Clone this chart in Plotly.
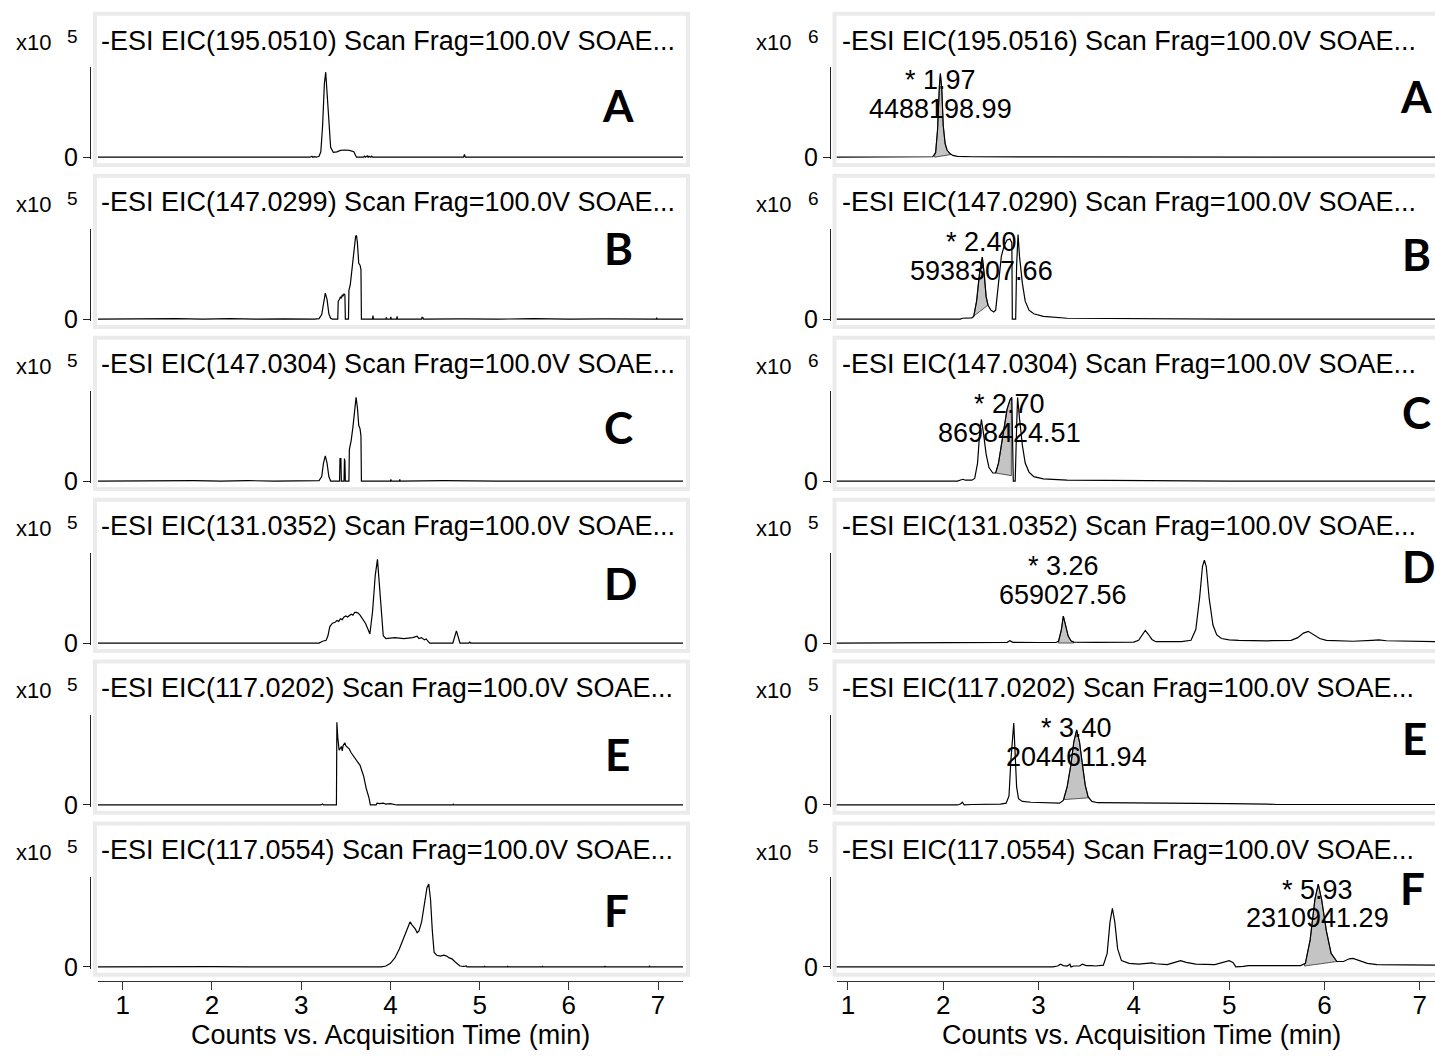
import numpy as np
import plotly.graph_objects as go

# ---------------- data ----------------
LETTERS = ["A", "B", "C", "D", "E", "F"]
LEFT_MZ = ["195.0510", "147.0299", "147.0304", "131.0352", "117.0202", "117.0554"]
RIGHT_MZ = ["195.0516", "147.0290", "147.0304", "131.0352", "117.0202", "117.0554"]
LEFT_EXP = ["5", "5", "5", "5", "5", "5"]
RIGHT_EXP = ["6", "6", "6", "5", "5", "5"]
X_TICKS = [1, 2, 3, 4, 5, 6, 7]
PEAK_RT = ["1.97", "2.40", "2.70", "3.26", "3.40", "5.93"]
PEAK_AREA = ["4488198.99", "5938307.66", "8698424.51", "659027.56", "2044611.94", "2310941.29"]

# intensities in units of the y-axis height (time in min)
LEFT_A = [(0.72, 0), (3.10, 0), (3.12, 0.01), (3.13, 0), (3.15, 0.006), (3.17, 0), (3.20, 0.01),
          (3.22, 0.06), (3.24, 0.35), (3.26, 0.82), (3.275, 0.945), (3.29, 0.72), (3.31, 0.30),
          (3.33, 0.11), (3.36, 0.055), (3.40, 0.06), (3.44, 0.075), (3.49, 0.08), (3.54, 0.075),
          (3.59, 0.06), (3.61, 0.02), (3.62, 0), (3.70, 0), (3.71, 0.012), (3.72, 0), (3.74, 0.015),
          (3.75, 0), (3.76, 0.01), (3.78, 0), (3.79, 0.012), (3.80, 0), (4.82, 0), (4.83, 0.03),
          (4.84, 0), (7.28, 0)]
LEFT_B = [(0.72, 0), (1.0, 0.004), (1.3, 0), (1.6, 0.005), (1.9, 0), (2.2, 0.005), (2.5, 0),
          (2.8, 0.004), (3.15, 0), (3.20, 0.005), (3.23, 0.05), (3.25, 0.20), (3.27, 0.29),
          (3.29, 0.22), (3.31, 0.06), (3.33, 0.01), (3.35, 0), (3.41, 0), (3.415, 0.20), (3.43, 0.22),
          (3.44, 0.25), (3.45, 0.23), (3.46, 0.27), (3.47, 0.26), (3.48, 0.28), (3.49, 0.27),
          (3.495, 0), (3.53, 0), (3.535, 0.32), (3.55, 0.38), (3.57, 0.55), (3.59, 0.75),
          (3.61, 0.92), (3.62, 0.93), (3.63, 0.85), (3.645, 0.62), (3.66, 0.60), (3.67, 0.55),
          (3.675, 0), (3.80, 0), (3.805, 0.04), (3.81, 0), (3.95, 0), (3.955, 0.02), (3.96, 0),
          (4.00, 0), (4.005, 0.025), (4.01, 0), (4.07, 0), (4.075, 0.03), (4.08, 0), (4.35, 0),
          (4.355, 0.025), (4.36, 0.01), (4.365, 0.02), (4.37, 0), (4.8, 0.004), (5.2, 0),
          (5.6, 0.005), (6.0, 0), (6.4, 0.004), (6.98, 0), (6.985, 0.015), (6.99, 0), (7.28, 0)]
LEFT_C = [(0.72, 0), (1.2, 0.004), (1.5, 0), (1.8, 0.004), (2.1, 0), (2.4, 0.005), (2.7, 0),
          (3.20, 0.005), (3.23, 0.05), (3.25, 0.20), (3.27, 0.28), (3.29, 0.20), (3.31, 0.05),
          (3.33, 0), (3.43, 0), (3.435, 0.25), (3.445, 0.25), (3.45, 0), (3.48, 0), (3.485, 0.25),
          (3.49, 0.22), (3.495, 0), (3.535, 0), (3.54, 0.35), (3.56, 0.45), (3.58, 0.60),
          (3.60, 0.80), (3.615, 0.93), (3.63, 0.82), (3.645, 0.62), (3.66, 0.58), (3.67, 0.50),
          (3.675, 0), (4.00, 0), (4.005, 0.02), (4.01, 0), (4.10, 0), (4.105, 0.02), (4.11, 0),
          (4.6, 0.004), (5.2, 0), (5.8, 0.004), (6.4, 0), (7.28, 0)]
LEFT_D = [(0.72, 0), (3.20, 0), (3.24, 0.02), (3.28, 0.03), (3.30, 0.08), (3.32, 0.18),
          (3.35, 0.22), (3.38, 0.23), (3.40, 0.25), (3.42, 0.24), (3.44, 0.27), (3.46, 0.26),
          (3.48, 0.29), (3.50, 0.30), (3.52, 0.29), (3.54, 0.31), (3.56, 0.32), (3.58, 0.31),
          (3.60, 0.34), (3.62, 0.34), (3.64, 0.33), (3.66, 0.31), (3.69, 0.27), (3.72, 0.22),
          (3.75, 0.15), (3.77, 0.10), (3.80, 0.35), (3.83, 0.75), (3.855, 0.93), (3.88, 0.60),
          (3.90, 0.25), (3.92, 0.08), (3.95, 0.05), (4.00, 0.055), (4.05, 0.06), (4.10, 0.055),
          (4.15, 0.05), (4.20, 0.055), (4.25, 0.06), (4.30, 0.075), (4.32, 0.05), (4.35, 0.06),
          (4.38, 0.035), (4.40, 0.045), (4.42, 0.02), (4.44, 0), (4.70, 0), (4.74, 0.135),
          (4.78, 0), (4.88, 0), (4.89, 0.01), (4.90, 0), (7.28, 0)]
LEFT_E = [(0.72, 0), (3.22, 0), (3.24, 0.01), (3.25, 0), (3.395, 0), (3.40, 0.92), (3.41, 0.75),
          (3.425, 0.61), (3.44, 0.63), (3.45, 0.65), (3.46, 0.60), (3.47, 0.66), (3.49, 0.69),
          (3.50, 0.66), (3.52, 0.64), (3.54, 0.62), (3.56, 0.58), (3.58, 0.55), (3.60, 0.53),
          (3.62, 0.50), (3.64, 0.46), (3.66, 0.44), (3.68, 0.38), (3.70, 0.32), (3.73, 0.18),
          (3.76, 0.08), (3.775, 0), (3.84, 0), (3.85, 0.02), (3.88, 0.015), (3.92, 0.02),
          (3.95, 0.01), (4.00, 0.015), (4.05, 0.01), (4.07, 0), (4.70, 0), (4.705, 0.008),
          (4.71, 0), (7.28, 0)]
LEFT_F = [(0.72, 0), (1.2, 0.004), (1.6, 0), (2.0, 0.004), (2.4, 0), (2.8, 0.004), (3.2, 0),
          (3.90, 0), (3.95, 0.01), (4.00, 0.04), (4.05, 0.10), (4.10, 0.20), (4.14, 0.30),
          (4.17, 0.38), (4.20, 0.45), (4.22, 0.50), (4.24, 0.47), (4.26, 0.45), (4.28, 0.42),
          (4.30, 0.38), (4.32, 0.40), (4.35, 0.50), (4.38, 0.70), (4.41, 0.88), (4.43, 0.92),
          (4.45, 0.75), (4.47, 0.40), (4.49, 0.16), (4.52, 0.13), (4.56, 0.12), (4.60, 0.13),
          (4.63, 0.12), (4.66, 0.10), (4.69, 0.09), (4.72, 0.06), (4.75, 0.03), (4.78, 0.01),
          (4.82, 0.005), (4.85, 0.012), (4.86, 0), (5.05, 0), (5.055, 0.01), (5.06, 0),
          (5.31, 0), (5.315, 0.01), (5.32, 0), (5.70, 0), (5.705, 0.01), (5.71, 0), (6.4, 0),
          (6.405, 0.01), (6.41, 0), (6.9, 0), (6.905, 0.012), (6.91, 0), (7.28, 0)]

RIGHT_A = [(0.88, 0), (1.85, 0), (1.89, 0.005), (1.92, 0.05), (1.94, 0.30), (1.96, 0.80),
           (1.97, 0.93), (1.985, 0.75), (2.00, 0.35), (2.02, 0.15), (2.04, 0.08), (2.07, 0.04),
           (2.10, 0.02), (2.15, 0.01), (2.30, 0.005), (3.0, 0.003), (7.16, 0)]
RIGHT_B = [(0.88, 0), (2.18, 0), (2.20, 0.01), (2.23, 0.012), (2.26, 0.01), (2.30, 0.015),
           (2.32, 0.03), (2.35, 0.20), (2.38, 0.50), (2.41, 0.69), (2.43, 0.50), (2.45, 0.25),
           (2.47, 0.155), (2.50, 0.10), (2.53, 0.08), (2.55, 0.10), (2.58, 0.40), (2.61, 0.70),
           (2.64, 0.82), (2.67, 0.88), (2.70, 0.89), (2.72, 0.85), (2.725, 0), (2.76, 0),
           (2.77, 0.60), (2.785, 0.94), (2.80, 0.70), (2.83, 0.40), (2.86, 0.20), (2.90, 0.10),
           (2.95, 0.06), (3.05, 0.03), (3.30, 0.01), (4.0, 0.005), (5.0, 0), (7.16, 0)]
RIGHT_C = [(0.88, 0), (2.15, 0), (2.19, 0.015), (2.21, 0.02), (2.23, 0.01), (2.30, 0.01),
           (2.33, 0.03), (2.36, 0.20), (2.38, 0.50), (2.40, 0.685), (2.42, 0.55), (2.45, 0.30),
           (2.48, 0.15), (2.52, 0.09), (2.55, 0.09), (2.58, 0.20), (2.61, 0.40), (2.64, 0.62),
           (2.67, 0.80), (2.70, 0.90), (2.715, 0.93), (2.72, 0.93), (2.735, 0), (2.755, 0),
           (2.77, 0.60), (2.78, 0.93), (2.80, 0.70), (2.83, 0.40), (2.86, 0.20), (2.90, 0.10),
           (2.95, 0.05), (3.05, 0.025), (3.30, 0.01), (4.0, 0.005), (5.0, 0), (7.16, 0)]
RIGHT_D = [(0.88, 0), (2.0, 0), (2.1, 0.004), (2.6, 0.005), (2.67, 0.008), (2.70, 0.026),
           (2.73, 0.008), (3.0, 0.006), (3.18, 0.006), (3.21, 0.02), (3.24, 0.15), (3.26, 0.30),
           (3.28, 0.22), (3.31, 0.08), (3.34, 0.025), (3.37, 0.01), (3.6, 0.008), (4.0, 0.01),
           (4.05, 0.03), (4.09, 0.10), (4.12, 0.14), (4.15, 0.10), (4.19, 0.04), (4.23, 0.015),
           (4.5, 0.015), (4.60, 0.03), (4.65, 0.15), (4.69, 0.50), (4.72, 0.85), (4.74, 0.92),
           (4.76, 0.85), (4.79, 0.50), (4.83, 0.20), (4.87, 0.09), (4.92, 0.05), (5.0, 0.035),
           (5.1, 0.03), (5.4, 0.025), (5.65, 0.03), (5.72, 0.06), (5.78, 0.11), (5.83, 0.13),
           (5.88, 0.10), (5.95, 0.05), (6.02, 0.03), (6.3, 0.02), (6.5, 0.03), (6.57, 0.035),
           (6.65, 0.025), (7.16, 0.015)]
RIGHT_E = [(0.88, 0), (2.15, 0), (2.18, 0.01), (2.20, 0.03), (2.22, 0), (2.30, 0.005),
           (2.60, 0.01), (2.66, 0.02), (2.69, 0.10), (2.71, 0.50), (2.74, 0.91), (2.755, 0.60),
           (2.77, 0.20), (2.79, 0.07), (2.83, 0.04), (2.92, 0.03), (3.10, 0.02), (3.22, 0.02),
           (3.26, 0.05), (3.30, 0.20), (3.34, 0.45), (3.37, 0.70), (3.40, 0.835), (3.43, 0.70),
           (3.46, 0.45), (3.49, 0.22), (3.52, 0.09), (3.56, 0.04), (3.62, 0.025), (4.0, 0.02),
           (5.0, 0.015), (5.4, 0.01), (5.5, 0.005), (7.16, 0.005)]
RIGHT_F = [(0.88, 0), (3.15, 0), (3.20, 0.01), (3.23, 0.03), (3.26, 0.015), (3.30, 0.01),
           (3.33, 0.03), (3.34, 0), (3.37, 0.01), (3.43, 0.01), (3.46, 0.03), (3.50, 0.015),
           (3.55, 0.015), (3.60, 0.01), (3.68, 0.02), (3.72, 0.15), (3.75, 0.50), (3.775, 0.65),
           (3.80, 0.50), (3.83, 0.20), (3.87, 0.07), (3.95, 0.04), (4.05, 0.03), (4.15, 0.035),
           (4.19, 0.045), (4.23, 0.035), (4.35, 0.025), (4.43, 0.05), (4.49, 0.07), (4.55, 0.05),
           (4.65, 0.03), (4.85, 0.025), (4.95, 0.05), (5.0, 0.07), (5.04, 0.05), (5.07, 0),
           (5.15, 0.005), (5.2, 0.015), (5.5, 0.015), (5.75, 0.015), (5.80, 0.04), (5.85, 0.30),
           (5.90, 0.75), (5.935, 0.92), (5.97, 0.75), (6.02, 0.40), (6.07, 0.15), (6.13, 0.06),
           (6.20, 0.06), (6.26, 0.09), (6.30, 0.095), (6.36, 0.07), (6.45, 0.04), (6.55, 0.025),
           (7.16, 0.02)]

# integration windows: (start time, start baseline, end time, end baseline)
SHADES = [(1.91, 0.0, 2.08, 0.03), (2.31, 0.026, 2.47, 0.155), (2.55, 0.09, 2.715, 0.06),
          (3.21, 0.0, 3.37, 0.0), (3.27, 0.06, 3.53, 0.08), (5.79, 0.01, 6.13, 0.06)]

LEFT = [LEFT_A, LEFT_B, LEFT_C, LEFT_D, LEFT_E, LEFT_F]
RIGHT = [RIGHT_A, RIGHT_B, RIGHT_C, RIGHT_D, RIGHT_E, RIGHT_F]

# ---------------- layout constants (pixels) ----------------
W, H = 1435, 1058
BASE0, PITCH, AXH = 159, 163.8, 91
COLS = [
    dict(dom=(97.8, 683.0), rng=[0.72, 7.28], yax=90, frame=(95, 688), title_x=99,
         x10_x=14, exp_x=65, title_c=390.5),
    dict(dom=(836.5, 1435.0), rng=[0.88, 7.16], yax=830, frame=(834.5, 1450), title_x=840,
         x10_x=754, exp_x=806, title_c=1141),
]
LETTER_LEFT = [(618, 53), (618, 72), (618, 55), (620, 61), (617, 52), (616, 58)]
LETTER_RIGHT = [(1416, 62), (1416, 66), (1416, 70), (1418, 78), (1414, 68), (1412, 80)]
FONT = "Liberation Sans, Arial, sans-serif"


def px(x):
    return x / W


def py(y):
    return 1 - y / H


fig = go.Figure()
layout = dict(width=W, height=H, margin=dict(l=0, r=0, t=0, b=0), showlegend=False,
              paper_bgcolor="white", plot_bgcolor="white", hovermode=False)
shapes, annots = [], []
YR = [-0.02, 1.0]

idx = 0
for c, col in enumerate(COLS):
    series = LEFT if c == 0 else RIGHT
    mz = LEFT_MZ if c == 0 else RIGHT_MZ
    exps = LEFT_EXP if c == 0 else RIGHT_EXP
    letters_pos = LETTER_LEFT if c == 0 else LETTER_RIGHT
    for r in range(6):
        idx += 1
        base = BASE0 + PITCH * r
        xa = "x" if idx == 1 else f"x{idx}"
        ya = "y" if idx == 1 else f"y{idx}"
        xkey = "xaxis" if idx == 1 else f"xaxis{idx}"
        ykey = "yaxis" if idx == 1 else f"yaxis{idx}"
        ybot = base + (0 - YR[0]) * AXH
        ytop = base - AXH
        bottom = (r == 5)
        xd = dict(domain=[px(col["dom"][0]), px(col["dom"][1])], range=col["rng"],
                  showgrid=False, zeroline=False, fixedrange=True)
        if bottom:
            xd.update(anchor="free", position=py(992), showline=True, linecolor="#333",
                      linewidth=1, ticks="outside", ticklen=8, tickcolor="#333",
                      ticklabelstandoff=-7,
                      tickvals=X_TICKS, ticktext=[str(v) for v in X_TICKS],
                      tickfont=dict(family=FONT, size=26, color="black"))
        else:
            xd.update(anchor=ya, visible=False)
        layout[xkey] = xd
        layout[ykey] = dict(domain=[py(ybot), py(ytop)], range=YR, anchor="free",
                            position=px(col["yax"]), showline=True, linecolor="#222",
                            linewidth=1, ticks="outside", ticklen=7, tickcolor="#222",
                            tickvals=[0], ticktext=["0"], showgrid=False, zeroline=False,
                            tickfont=dict(family=FONT, size=25, color="black"),
                            fixedrange=True)
        pts = series[r]
        t = np.array([p[0] for p in pts])
        v = np.array([p[1] for p in pts])
        if c == 1:
            t0, b0, t1, b1 = SHADES[r]
            inside = (t > t0) & (t < t1)
            poly_t = [t0, t0] + list(t[inside]) + [t1, t1, t0]
            poly_v = [b0, float(np.interp(t0, t, v))] + list(v[inside]) + \
                     [float(np.interp(t1, t, v)), b1, b0]
            fig.add_trace(go.Scatter(x=poly_t, y=poly_v, xaxis=xa, yaxis=ya, mode="lines",
                                     fill="toself", fillcolor="#c4c4c4",
                                     line=dict(color="#333", width=0.8)))
        fig.add_trace(go.Scatter(x=t, y=v, xaxis=xa, yaxis=ya, mode="lines",
                                 line=dict(color="black", width=1.2)))
        # frame
        shapes.append(dict(type="rect", xref="paper", yref="paper",
                           x0=px(col["frame"][0]), x1=px(col["frame"][1]),
                           y0=py(base + 8), y1=py(base - 145),
                           line=dict(color="#ebebeb", width=4), fillcolor="rgba(0,0,0,0)",
                           layer="below"))
        # title
        annots.append(dict(xref="paper", yref="paper", x=px(col["title_x"]), y=py(base - 118),
                           xanchor="left", yanchor="middle", showarrow=False,
                           text=f"-ESI EIC({mz[r]}) Scan Frag=100.0V SOAE...",
                           font=dict(family=FONT, size=27, color="black")))
        annots.append(dict(xref="paper", yref="paper", x=px(col["x10_x"]), y=py(base - 116),
                           xanchor="left", yanchor="middle", showarrow=False, text="x10",
                           font=dict(family=FONT, size=22, color="black")))
        annots.append(dict(xref="paper", yref="paper", x=px(col["exp_x"]), y=py(base - 122),
                           xanchor="left", yanchor="middle", showarrow=False, text=exps[r],
                           font=dict(family=FONT, size=19, color="black")))
        lx, ly = letters_pos[r]
        annots.append(dict(xref="paper", yref="paper", x=px(lx), y=py(base - ly),
                           xanchor="center", yanchor="middle", showarrow=False,
                           text=f"<b>{LETTERS[r]}</b>",
                           font=dict(family="Lato, Open Sans, sans-serif", size=44,
                                     color="black")))
        if c == 1:
            annots.append(dict(xref=xa, yref="paper", x=float(PEAK_RT[r]), y=py(base - 78),
                               xanchor="center", yanchor="middle", showarrow=False,
                               text=f"* {PEAK_RT[r]}",
                               font=dict(family=FONT, size=27, color="black")))
            annots.append(dict(xref=xa, yref="paper", x=float(PEAK_RT[r]), y=py(base - 49),
                               xanchor="center", yanchor="middle", showarrow=False,
                               text=PEAK_AREA[r],
                               font=dict(family=FONT, size=27, color="black")))
    annots.append(dict(xref="paper", yref="paper", x=px(col["title_c"]), y=py(1047),
                       xanchor="center", yanchor="middle", showarrow=False,
                       text="Counts vs. Acquisition Time (min)",
                       font=dict(family=FONT, size=27, color="black")))

layout["shapes"] = shapes
layout["annotations"] = annots
fig.update_layout(**layout)
fig.write_html("out.html")
